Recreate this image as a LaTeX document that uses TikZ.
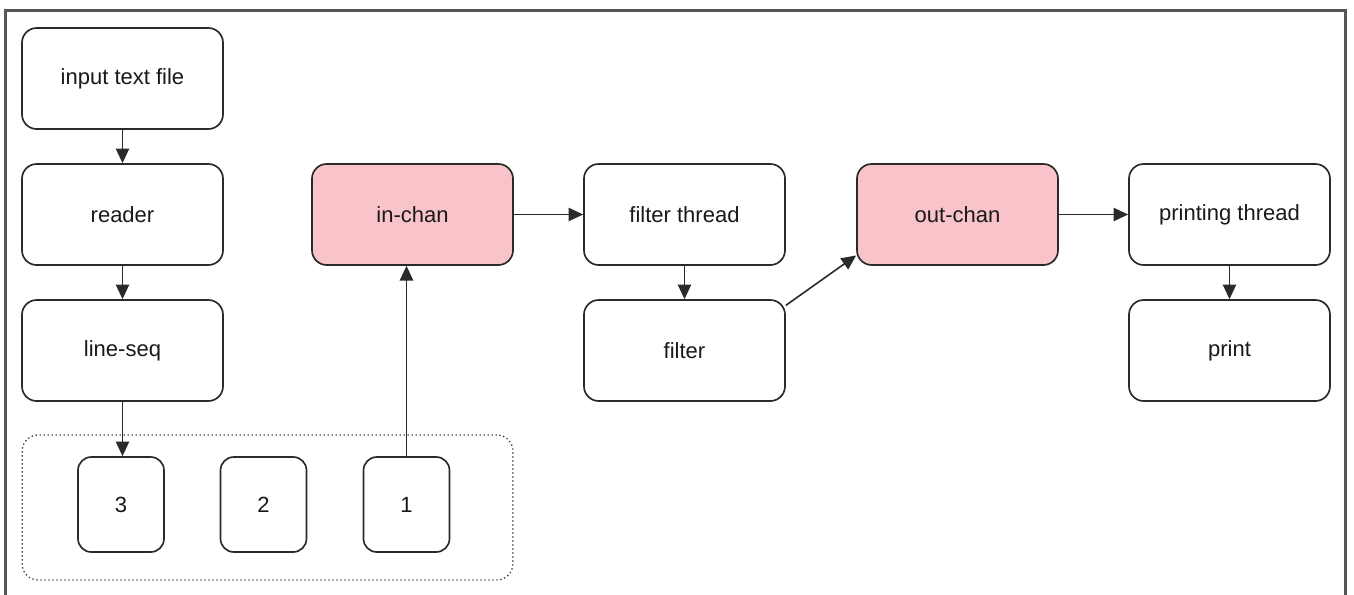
\documentclass[tikz,border=0pt]{standalone}
\usepackage{fontspec}
\setmainfont{Liberation Sans}
\usetikzlibrary{arrows.meta}
\definecolor{pinkfill}{HTML}{F8C3C9}
\definecolor{linecol}{HTML}{2A2A2A}
\definecolor{framecol}{HTML}{555555}
\tikzset{
  procbox/.style={draw=linecol, line width=1.25pt, rounded corners=11pt, fill=white,
    minimum width=150.75pt, minimum height=75.75pt, inner sep=0pt,
    font=\fontsize{16.5}{19}\selectfont, text=black!90},
  chanbox/.style={procbox, fill=pinkfill},
  itembox/.style={procbox, minimum width=64.5pt, minimum height=71.25pt, rounded corners=10pt},
  groupbox/.style={draw=black!75, line width=1pt, dotted, rounded corners=12pt,
    minimum width=368pt, minimum height=108.75pt, inner sep=0pt},
  conn/.style={draw=linecol, line width=1.2pt, -{Triangle[length=11pt,width=10pt]}}
}
\begin{document}
\begin{tikzpicture}[x=0.75pt,y=-0.75pt]
\useasboundingbox (0,0) rectangle (1354,594);
\draw[framecol, line width=1.6pt] (5.5,600) -- (5.5,10.5) -- (1345.5,10.5) -- (1345.5,600);
\node[groupbox] (grp) at (267.5,507.5) {};
\node[procbox] (itf) at (122.5,78.5) {input text file};
\node[procbox] (reader) at (122.5,214.5) {reader};
\node[procbox] (lineseq) at (122.5,350.5) {line-seq};
\node[chanbox] (inchan) at (412.5,214.5) {in-chan};
\node[procbox] (fthread) at (684.5,214.5) {filter thread};
\node[procbox] (filter) at (684.5,350.5) {filter};
\node[chanbox] (outchan) at (957.5,214.5) {out-chan};
\node[procbox] (pthread) at (1229.5,214.5) {printing thread};
\node[procbox] (print) at (1229.5,350.5) {print};
\node[itembox] (b3) at (121,504.5) {3};
\node[itembox] (b2) at (263.5,504.5) {2};
\node[itembox] (b1) at (406.5,504.5) {1};
\draw[conn] (itf) -- (reader);
\draw[conn] (reader) -- (lineseq);
\draw[conn] (lineseq.south) -- (lineseq.south |- b3.north);
\draw[conn] (b1.north) -- (b1.north |- inchan.south);
\draw[conn] (inchan) -- (fthread);
\draw[conn] (fthread) -- (filter);
\draw[conn] (filter.24) -- (outchan.202);
\draw[conn] (outchan) -- (pthread);
\draw[conn] (pthread) -- (print);
\end{tikzpicture}
\end{document}
